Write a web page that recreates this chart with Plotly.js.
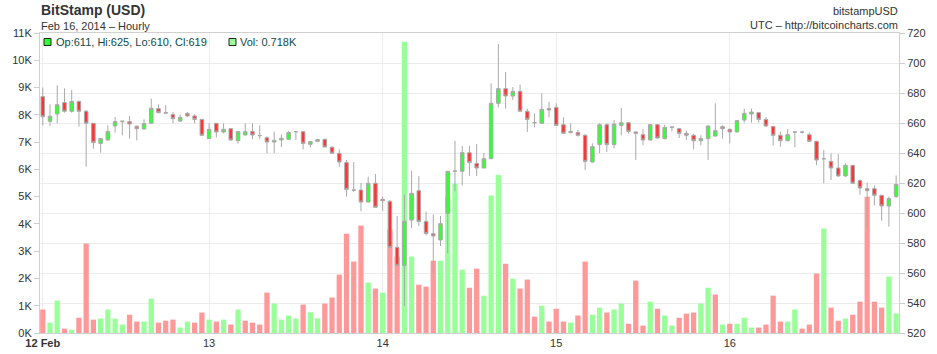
<!DOCTYPE html>
<html>
<head>
<meta charset="utf-8">
<script src="https://cdn.plot.ly/plotly-3.0.1.min.js"></script>
<style>
html,body{margin:0;padding:0;background:#fff;}
#chart{width:937px;height:354px;}
</style>
</head>
<body>
<div id="chart"></div>
<script>
// ---- data (hourly candles, 12 Feb 01:00 .. 16 Feb 23:00 UTC, 2014) ----
const firstHour = 1; // hours after 2014-02-12 00:00
const openP = [677.6,661.1,666.0,673.6,667.8,674.4,667.8,659.8,646.4,648.7,658.0,660.9,660.9,657.8,656.0,659.8,669.6,666.9,665.6,661.3,
666.4,664.7,662.4,649.6,659.8,654.0,656.2,648.2,652.0,654.4,651.6,650.2,647.3,648.7,649.1,654.2,654.2,645.8,647.8,649.1,
643.8,639.8,633.6,615.3,615.3,607.3,619.8,609.1,607.8,577.1,565.1,595.3,614.9,594.4,586.2,582.0,599.8,627.8,627.8,640.2,
633.1,630.0,636.2,673.1,682.9,678.0,681.1,667.8,660.2,659.8,669.6,670.4,658.9,653.6,653.6,651.8,634.0,645.6,658.9,645.6,
658.4,660.2,654.0,652.2,648.7,658.9,649.6,657.1,656.2,653.1,651.8,648.2,649.6,651.3,657.6,655.8,654.0,662.0,666.0,666.9,
662.4,657.6,651.8,648.2,654.0,654.0,652.2,647.8,636.2,634.4,630.0,624.7,631.8,621.6,616.2,616.2,611.8,604.7,611];
const highP = [683.6,672.4,685.1,683.1,682.0,675.0,668.7,660.0,650.0,658.4,664.0,661.3,664.7,658.4,662.4,676.2,672.4,671.8,667.3,665.6,
667.3,666.0,662.4,659.8,659.8,659.8,656.2,654.4,659.8,659.8,658.4,651.0,654.2,652.4,654.7,654.7,654.2,648.0,649.6,649.6,
644.7,642.4,635.3,634.0,620.0,624.2,626.0,611.0,608.7,598.0,612.2,628.2,624.7,601.0,599.0,598.0,628.0,648.2,644.7,644.7,
646.0,640.0,686.4,712.7,694.0,684.0,685.6,669.6,666.4,679.8,674.0,673.1,663.8,659.8,655.3,652.7,646.4,659.8,659.8,662.0,
670.0,660.7,654.4,656.2,659.3,659.3,658.9,657.6,656.7,654.9,652.7,651.8,658.4,673.1,658.4,656.2,662.0,669.6,669.6,667.3,
664.0,657.6,654.4,655.8,654.4,654.9,653.6,648.0,642.0,639.8,639.3,633.1,632.0,622.4,620.2,618.4,612.0,610.9,625];
const lowP = [658.4,658.0,659.8,666.9,666.9,657.6,630.9,642.9,640.2,648.2,653.6,651.8,649.6,648.4,655.8,659.8,666.4,666.4,659.8,660.7,
663.8,659.8,651.3,649.6,650.4,653.1,648.2,646.4,651.8,649.1,649.1,639.8,639.8,644.0,649.1,648.7,642.4,643.8,647.3,644.0,
639.8,630.9,610.9,614.0,601.1,607.3,603.8,601.3,577.0,565.1,538.0,590.0,591.3,585.0,559.8,578.0,573.1,614.4,618.4,624.7,
624.7,630.0,636.2,670.4,669.6,675.3,667.8,654.0,657.1,659.8,663.8,658.4,652.7,653.1,650.9,628.7,633.6,639.8,640.7,643.0,
651.8,653.1,635.3,645.1,648.4,649.6,649.0,654.4,650.0,648.7,642.4,645.1,635.3,650.9,649.6,646.4,654.0,660.2,660.2,660.2,
657.6,645.1,644.2,647.8,643.8,653.0,647.3,631.8,619.8,622.0,624.0,624.0,619.8,612.2,589.6,605.1,594.9,590.9,610];
const closeP = [664.2,664.5,672.2,667.8,674.4,667.8,659.8,646.9,649.6,654.4,660.9,661.2,659.3,656.2,659.6,669.8,666.9,666.6,662.9,663.8,
664.7,662.4,651.8,655.8,654.0,655.8,648.7,654.4,654.2,652.0,651.6,647.3,648.4,649.8,653.6,654.2,646.4,647.6,648.9,644.0,
639.8,634.0,615.8,615.3,607.3,619.8,603.8,608.2,577.1,565.1,594.4,613.1,594.4,586.4,584.7,592.9,627.8,628.0,640.2,633.6,
630.0,636.2,673.1,682.9,678.0,681.1,667.8,662.4,660.2,669.1,668.7,658.4,653.1,654.4,651.8,634.4,644.2,658.9,645.6,659.3,
660.2,654.4,653.1,648.7,658.9,650.0,657.1,657.3,653.1,651.8,648.2,649.6,658.0,654.9,656.2,654.0,661.6,666.4,667.3,662.4,
658.0,651.8,648.2,652.2,654.0,653.9,647.8,635.3,636.2,630.0,624.7,631.8,619.8,616.7,614.9,611.8,604.7,609.6,619];
const volumeK = [0.86,0.38,1.19,0.16,0.12,0.56,3.28,0.49,0.53,0.86,0.53,0.31,0.67,0.42,0.42,1.26,0.38,0.45,0.49,0.20,
0.42,0.38,0.75,0.49,0.42,0.49,0.31,0.86,0.45,0.38,0.31,1.48,1.08,0.49,0.64,0.53,1.04,0.76,0.54,1.08,
1.30,2.14,3.64,2.62,3.94,1.85,1.63,1.48,3.8,2.8,10.68,2.80,1.77,1.70,2.65,2.65,5.0,5.47,2.32,1.66,
2.36,1.37,5.04,5.79,2.54,1.99,1.63,1.96,0.60,1.00,0.42,0.89,0.42,0.38,0.64,2.62,0.67,0.93,0.75,0.86,
1.08,0.34,1.92,0.27,1.15,0.89,0.64,0.27,0.56,0.71,0.75,1.08,1.66,1.41,0.31,0.34,0.34,0.56,0.20,0.20,
0.31,1.37,0.42,0.42,0.86,0.16,0.31,2.18,3.83,0.93,0.45,0.53,0.67,1.15,5.0,1.15,0.93,2.07,0.718];
const dayTickVals = ['2014-02-12 01:00','2014-02-13 00:00','2014-02-14 00:00','2014-02-15 00:00','2014-02-16 00:00'];
const dayTickText = ['<b>12 Feb</b>','13','14','15','16'];
const volTickVals = [0,1,2,3,4,5,6,7,8,9,10,11];
const volTickText = ['0K','1K','2K','3K','4K','5K','6K','7K','8K','9K','10K','11K'];
const priceTickVals = [520,540,560,580,600,620,640,660,680,700,720];

// ---- build ----
function pad(n){return (n<10?'0':'')+n;}
const times = openP.map((_,i)=>{
  const h = firstHour + i;
  return '2014-02-' + pad(12 + Math.floor(h/24)) + ' ' + pad(h%24) + ':00';
});
const volColors = closeP.map((c,i)=>{
  const up = i===0 ? c>=openP[0] : c>closeP[i-1];
  return up ? '#99ff99' : '#ff9999';
});

const FONT = 'Liberation Sans, Arial, Helvetica, sans-serif';
const L=40, R=899, T=33, B=333;
const W=937, H=354;
function px(x){return (x-L)/(R-L);}
function py(y){return (B-y)/(B-T);}

const n = closeP.length;
const last = n-1;

const volTrace = {
  type:'bar', x:times, y:volumeK, xaxis:'x', yaxis:'y',
  marker:{color:volColors, line:{width:0}},
  hoverinfo:'skip', showlegend:false
};
const candleTrace = {
  type:'candlestick', x:times, open:openP, high:highP, low:lowP, close:closeP,
  xaxis:'x', yaxis:'y2',
  increasing:{line:{color:'#a9a9a9', width:1}, fillcolor:'#33ff33'},
  decreasing:{line:{color:'#a9a9a9', width:1}, fillcolor:'#ff3333'},
  whiskerwidth:0, hoverinfo:'skip', showlegend:false
};

const legendText = 'Op:' + Math.round(openP[last]) + ', Hi:' + Math.round(highP[last]) +
  ', Lo:' + Math.round(lowP[last]) + ', Cl:' + Math.round(closeP[last]);
const volText = 'Vol: ' + volumeK[last].toFixed(3) + 'K';

const layout = {
  width:W, height:H,
  margin:{l:L, r:W-R, t:T, b:H-B, pad:0},
  paper_bgcolor:'#ffffff', plot_bgcolor:'#ffffff',
  font:{family:FONT, size:11, color:'#333333'},
  showlegend:false,
  bargap:0.27,
  boxgap:0.3,
  xaxis:{
    type:'date',
    range:['2014-02-12 00:37','2014-02-16 23:24'],
    rangeslider:{visible:false},
    tickmode:'array', tickvals:dayTickVals, ticktext:dayTickText,
    ticks:'', showgrid:true, gridcolor:'#ececec', gridwidth:1,
    showline:true, linecolor:'#d0d0d0', linewidth:1, mirror:true,
    zeroline:false,
    tickfont:{family:FONT, size:11, color:'#333333'}
  },
  yaxis:{
    range:[0,11], tickmode:'array', tickvals:volTickVals, ticktext:volTickText,
    ticks:'outside', ticklen:5, tickcolor:'#cccccc',
    showgrid:false, zeroline:false,
    showline:true, linecolor:'#d0d0d0', linewidth:1,
    tickfont:{family:FONT, size:11, color:'#333333'},
    fixedrange:true
  },
  yaxis2:{
    overlaying:'y', side:'right', anchor:'x',
    range:[520,720], tickmode:'array', tickvals:priceTickVals,
    ticks:'outside', ticklen:5, tickcolor:'#cccccc',
    showgrid:true, gridcolor:'#ececec', gridwidth:1, zeroline:false,
    showline:true, linecolor:'#d0d0d0', linewidth:1,
    tickfont:{family:FONT, size:11, color:'#333333'},
    fixedrange:true
  },
  shapes:[
    {type:'rect', xref:'paper', yref:'paper', x0:px(44), x1:px(51), y0:py(45.5), y1:py(38.5),
     fillcolor:'#33ff33', line:{color:'#222222', width:1}, layer:'above'},
    {type:'rect', xref:'paper', yref:'paper', x0:px(229), x1:px(236), y0:py(45.5), y1:py(38.5),
     fillcolor:'#99ff99', line:{color:'#222222', width:1}, layer:'above'}
  ],
  annotations:[
    {text:'<b>BitStamp (USD)</b>', xref:'paper', yref:'paper', x:px(39), y:py(10),
     xanchor:'left', yanchor:'middle', showarrow:false, font:{family:FONT, size:14, color:'#333333'}},
    {text:'Feb 16, 2014 \u2013 Hourly', xref:'paper', yref:'paper', x:px(39), y:py(25.5),
     xanchor:'left', yanchor:'middle', showarrow:false, font:{family:FONT, size:11, color:'#333333'}},
    {text:'bitstampUSD', xref:'paper', yref:'paper', x:px(900), y:py(10.5),
     xanchor:'right', yanchor:'middle', showarrow:false, font:{family:FONT, size:11, color:'#333333'}},
    {text:'UTC \u2013 http://bitcoincharts.com', xref:'paper', yref:'paper', x:px(900), y:py(24.5),
     xanchor:'right', yanchor:'middle', showarrow:false, font:{family:FONT, size:11, color:'#333333'}},
    {text:legendText, xref:'paper', yref:'paper', x:px(54), y:py(42),
     xanchor:'left', yanchor:'middle', showarrow:false, font:{family:FONT, size:11, color:'#0d4a4a'}},
    {text:volText, xref:'paper', yref:'paper', x:px(238), y:py(42),
     xanchor:'left', yanchor:'middle', showarrow:false, font:{family:FONT, size:11, color:'#0d4a4a'}}
  ]
};

Plotly.newPlot('chart', [volTrace, candleTrace], layout, {displayModeBar:false, staticPlot:true});
</script>
</body>
</html>
